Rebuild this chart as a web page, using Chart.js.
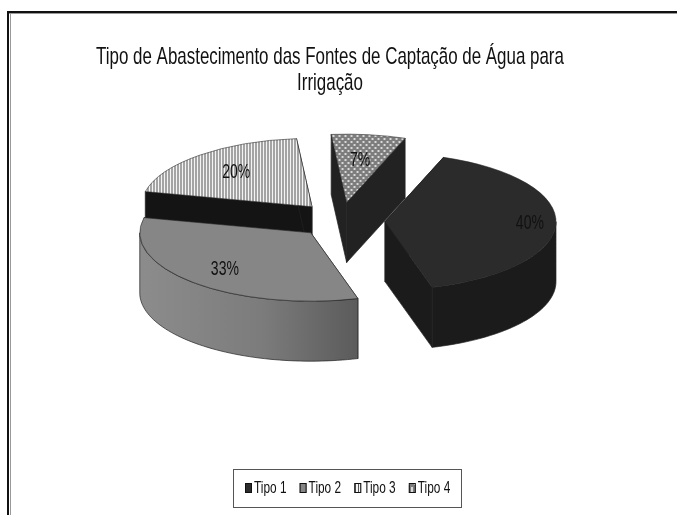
<!DOCTYPE html>
<html>
<head>
<meta charset="utf-8">
<title>Tipo de Abastecimento</title>
<script src="https://cdn.jsdelivr.net/npm/chart.js@4"></script>
<style>
  html, body { margin: 0; padding: 0; background: #fff; }
  #wrap { position: relative; width: 677px; height: 515px; overflow: hidden; }
</style>
</head>
<body>
<div id="wrap"><canvas id="pieChart" width="677" height="515"></canvas></div>
<script>
const categories = ['Tipo 1', 'Tipo 2', 'Tipo 3', 'Tipo 4'];
const shares = [40, 33, 20, 7];
const titleLines = ['Tipo de Abastecimento das Fontes de Captação de Água para', 'Irrigação'];

const FONT = '"Liberation Sans", Arial, sans-serif';
const SQUASH = 0.4;     // ellipse height / width
const DEPTH = 60;       // height of the pie walls
const EXPLODE = 44;     // how far each slice is pulled out
const PIE_X = 341, PIE_Y = 220;
const labelRadius = [145, 125, 115, 105];
const nudgeY = [1, 0, 0, 0];  // the front slice sits a little lower

// condensed text, there is no narrow face installed so squeeze with maxWidth
function narrowText(ctx, text, x, y, ratio) {
  ctx.fillText(text, x, y, ctx.measureText(text).width * ratio);
}

// vertical stripes for Tipo 3
function stripes() {
  const c = document.createElement('canvas');
  c.width = 3; c.height = 3;
  const g = c.getContext('2d');
  g.fillStyle = '#f4f4f4'; g.fillRect(0, 0, 3, 3);
  g.fillStyle = '#555'; g.fillRect(1, 0, 1, 3);
  return g.createPattern(c, 'repeat');
}

// dots for Tipo 4, drawn tall because the pie gets flattened afterwards
function dots() {
  const c = document.createElement('canvas');
  c.width = 6; c.height = 15;
  const g = c.getContext('2d');
  g.fillStyle = '#7d7d7d'; g.fillRect(0, 0, 6, 15);
  g.fillStyle = '#d8d8d8';
  g.fillRect(0, 0, 2, 5);
  g.fillRect(3, 7, 2, 5);
  return g.createPattern(c, 'repeat');
}

const topColors = ['#2b2b2b', '#868686', stripes(), dots()];
const wallColors = ['#1b1b1b', null, '#141414', '#222222'];

function apexOf(arc, area) {
  return {
    x: PIE_X + arc.x - (area.left + area.right) / 2,
    y: PIE_Y + (arc.y - (area.top + area.bottom) / 2) * SQUASH,
    mid: (arc.startAngle + arc.endAngle) / 2
  };
}

function ell(apex, r, a, dy) {
  return [apex.x + Math.cos(a) * r, apex.y + Math.sin(a) * r * SQUASH + (dy || 0)];
}

function wallFill(ctx, i, x0, x1) {
  if (wallColors[i]) return wallColors[i];
  const g = ctx.createLinearGradient(x0, 0, x1, 0);
  g.addColorStop(0, '#8c8c8c');
  g.addColorStop(0.55, '#7c7c7c');
  g.addColorStop(1, '#5a5a5a');
  return g;
}

function drawWalls(ctx, arc, i, area) {
  const apex = apexOf(arc, area);
  const r = arc.outerRadius;
  const s = arc.startAngle, e = arc.endAngle;
  const face = pts => {
    ctx.beginPath();
    pts.forEach((p, n) => n ? ctx.lineTo(p[0], p[1]) : ctx.moveTo(p[0], p[1]));
    ctx.closePath();
    ctx.fill();
    ctx.stroke();
  };
  ctx.strokeStyle = '#222';
  ctx.lineWidth = 0.7;
  ctx.fillStyle = wallFill(ctx, i, apex.x - r, apex.x + 50);

  // the two cut faces
  const a = [apex.x, apex.y];
  const ad = [apex.x, apex.y + DEPTH];
  face([a, ell(apex, r, s), ell(apex, r, s, DEPTH), ad]);
  face([a, ell(apex, r, e), ell(apex, r, e, DEPTH), ad]);

  // curved outside wall, only the part that faces the viewer
  const from = Math.max(s, 0), to = Math.min(e, Math.PI);
  if (from >= to) return;
  const steps = 60, pts = [];
  for (let n = 0; n <= steps; n++) pts.push(ell(apex, r, from + (to - from) * n / steps));
  for (let n = steps; n >= 0; n--) pts.push(ell(apex, r, from + (to - from) * n / steps, DEPTH));
  face(pts);
}

const pie3d = {
  id: 'pie3d',
  // pull the slices apart here, the arc offset option also grows the radius
  afterDatasetsUpdate(chart) {
    chart.getDatasetMeta(0).data.forEach((arc, i) => {
      const mid = (arc.startAngle + arc.endAngle) / 2;
      arc.x += Math.cos(mid) * EXPLODE;
      arc.y += Math.sin(mid) * EXPLODE + nudgeY[i] / SQUASH;
    });
  },
  beforeDraw(chart) {
    const { ctx, width, height } = chart;
    ctx.save();
    ctx.fillStyle = '#fff';
    ctx.fillRect(0, 0, width, height);
    // page frame, black line with a grey one inside it
    ctx.fillStyle = '#111';
    ctx.fillRect(7, 11, width - 7, 2);
    ctx.fillRect(7, 11, 2, height - 11);
    ctx.fillStyle = '#999';
    ctx.fillRect(9, 13, width - 9, 1);
    ctx.fillRect(10, 13, 1, height - 13);
    ctx.restore();

    // title
    ctx.save();
    ctx.fillStyle = '#111';
    ctx.font = '24px ' + FONT;
    ctx.textAlign = 'center';
    ctx.textBaseline = 'alphabetic';
    titleLines.forEach((line, i) => narrowText(ctx, line, 330, 64 + i * 26, 0.705));
    ctx.restore();
  },
  beforeDatasetsDraw(chart) {
    const { ctx, chartArea } = chart;
    const arcs = chart.getDatasetMeta(0).data;
    ctx.save();
    [3, 2, 1, 0].forEach(i => drawWalls(ctx, arcs[i], i, chartArea));
    ctx.restore();

    // flatten everything the library draws for the slices
    ctx.save();
    ctx.translate(PIE_X, PIE_Y);
    ctx.scale(1, SQUASH);
    ctx.translate(-(chartArea.left + chartArea.right) / 2, -(chartArea.top + chartArea.bottom) / 2);
  },
  afterDatasetsDraw(chart) {
    const { ctx, chartArea } = chart;
    ctx.restore();
    const arcs = chart.getDatasetMeta(0).data;

    ctx.save();
    ctx.fillStyle = '#111';
    ctx.font = '20px ' + FONT;
    ctx.textAlign = 'center';
    ctx.textBaseline = 'middle';
    arcs.forEach((arc, i) => {
      const apex = apexOf(arc, chartArea);
      const p = ell(apex, labelRadius[i], apex.mid);
      narrowText(ctx, shares[i] + '%', p[0], p[1], 0.7);
    });
    ctx.restore();
    drawLegend(ctx);
  }
};

// legend box under the pie
function drawLegend(ctx) {
  ctx.save();
  ctx.strokeStyle = '#555';
  ctx.lineWidth = 1;
  ctx.fillStyle = '#fff';
  ctx.fillRect(233, 469, 229, 39);
  ctx.strokeRect(233.5, 469.5, 228, 38);
  ctx.font = '16px ' + FONT;
  ctx.textBaseline = 'middle';
  ctx.textAlign = 'left';
  categories.forEach((name, i) => {
    const x = 245 + i * 54.6;
    ctx.fillStyle = topColors[i];
    ctx.fillRect(x, 483, 7, 10);
    ctx.strokeStyle = '#111';
    ctx.strokeRect(x + 0.5, 483.5, 6, 9);
    ctx.fillStyle = '#111';
    narrowText(ctx, name, x + 9, 488.5, 0.74);
  });
  ctx.restore();
}

new Chart(document.getElementById('pieChart'), {
  type: 'pie',
  plugins: [pie3d],
  data: {
    labels: categories,
    datasets: [{
      data: shares,
      backgroundColor: topColors,
      borderColor: '#222',
      borderWidth: 0.8,
      radius: 171,
      rotation: 20,
      clip: false
    }]
  },
  options: {
    responsive: false,
    animation: false,
    plugins: {
      legend: { display: false },
      tooltip: { enabled: false },
      title: { display: false }
    }
  }
});
</script>
</body>
</html>
